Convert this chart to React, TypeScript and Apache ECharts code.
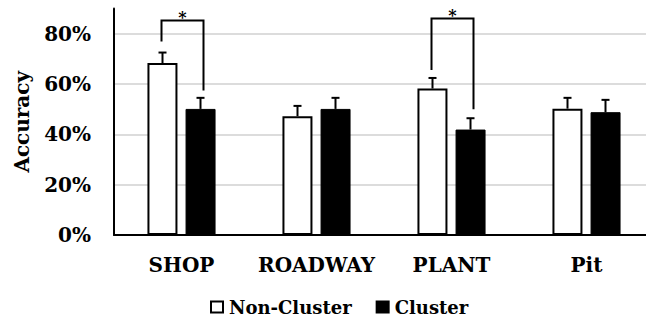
import React, { useEffect, useRef } from "react";
import * as echarts from "echarts";

const categories = ["SHOP", "ROADWAY", "PLANT", "Pit"];
const nonCluster = [68.3, 47.2, 58.2, 50.2];
const nonClusterErr = [72.5, 51.3, 62.4, 54.5];
const cluster = [50.1, 50.1, 41.9, 48.8];
const clusterErr = [54.5, 54.5, 46.4, 53.7];
// significance brackets: [categoryIndex, leftBottom, top, rightBottom]
const brackets = [
  [0, 76.9, 85.2, 57.4],
  [2, 65.6, 86.0, 50.0],
];
const yTicks = [0, 20, 40, 60, 80];

const FONT = "DejaVu Serif";

export default function App() {
  const ref = useRef<HTMLDivElement>(null);
  useEffect(() => {
    const chart = echarts.init(ref.current!, null, { renderer: "svg" });
    const BAR_OFF = 19;
    const errSeries = (vals: number[], tops: number[], off: number, name: string) => ({
      type: "custom",
      name: name + "-err",
      z: 5,
      silent: true,
      data: vals.map((v, i) => [i, v, tops[i]]),
      renderItem: (params: any, api: any) => {
        const i = api.value(0);
        const p0 = api.coord([i, api.value(1)]);
        const p1 = api.coord([i, api.value(2)]);
        const x = p0[0] + off;
        const style = { stroke: "#000", lineWidth: 2, fill: "none" };
        return {
          type: "group",
          children: [
            { type: "line", shape: { x1: x, y1: p0[1], x2: x, y2: p1[1] }, style },
            { type: "line", shape: { x1: x - 4, y1: p1[1], x2: x + 4, y2: p1[1] }, style },
          ],
        };
      },
    });
    chart.setOption({
      animation: false,
      grid: { left: 114, width: 540, top: 8.5, bottom: 87, containLabel: false, outerBoundsMode: "none" },
      legend: {
        bottom: 1,
        left: 205,
        icon: "rect",
        itemWidth: 12,
        itemHeight: 11,
        itemGap: 24,
        data: ["Non-Cluster", "Cluster"],
        textStyle: { fontFamily: FONT, fontWeight: "bold", fontSize: 18, color: "#000", padding: [0, 0, 0, 1] },
      },
      xAxis: {
        type: "category",
        data: categories,
        axisTick: { show: false },
        axisLine: { lineStyle: { color: "#000", width: 2 } },
        axisLabel: { interval: 0, fontFamily: FONT, fontWeight: "bold", fontSize: 20, color: "#000", margin: 20 },
      },
      yAxis: {
        type: "value",
        min: 0,
        max: 90,
        interval: 20,
        name: "Accuracy",
        nameLocation: "middle",
        nameGap: 82,
        nameTextStyle: { fontFamily: FONT, fontWeight: "bold", fontSize: 20, color: "#000" },
        axisLine: { show: true, lineStyle: { color: "#000", width: 2 } },
        axisTick: { show: false },
        axisLabel: {
          fontFamily: FONT,
          fontWeight: "bold",
          fontSize: 20,
          color: "#000",
          margin: 23,
          showMaxLabel: false,
          formatter: (v: number) => (yTicks.includes(v) ? v + "%" : ""),
        },
        splitLine: {
          show: true,
          lineStyle: { color: ["none", "#d0d0d0", "#d0d0d0", "#d0d0d0", "#d0d0d0", "none"], width: 1.5 },
        },
      },
      series: [
        {
          name: "Non-Cluster",
          type: "bar",
          barWidth: 30,
          barGap: "27%",
          data: nonCluster,
          itemStyle: { color: "#fff", borderColor: "#000", borderWidth: 2 },
        },
        {
          name: "Cluster",
          type: "bar",
          barWidth: 30,
          data: cluster,
          itemStyle: { color: "#000", borderColor: "#000", borderWidth: 1 },
        },
        errSeries(nonCluster, nonClusterErr, -BAR_OFF, "nc"),
        errSeries(cluster, clusterErr, BAR_OFF, "c"),
        {
          type: "custom",
          name: "brackets",
          z: 6,
          silent: true,
          data: brackets,
          renderItem: (params: any, api: any) => {
            const i = api.value(0);
            const a = api.coord([i, api.value(1)]);
            const t = api.coord([i, api.value(2)]);
            const b = api.coord([i, api.value(3)]);
            const xl = a[0] - 20;
            const xr = a[0] + 22;
            return {
              type: "group",
              children: [
                {
                  type: "polyline",
                  shape: { points: [[xl, a[1]], [xl, t[1]], [xr, t[1]], [xr, b[1]]] },
                  style: { stroke: "#000", lineWidth: 2, fill: "none" },
                },
                {
                  type: "text",
                  style: {
                    text: "*",
                    x: (xl + xr) / 2,
                    y: t[1] - 3,
                    align: "center",
                    verticalAlign: "middle",
                    font: "bold 16px " + FONT,
                    fill: "#000",
                  },
                },
              ],
            };
          },
        },
      ],
    });
    return () => chart.dispose();
  }, []);
  return (
    <div
      ref={ref}
      style={{ position: "fixed", left: 0, top: 0, width: 646, height: 322, background: "#fff" }}
    />
  );
}
